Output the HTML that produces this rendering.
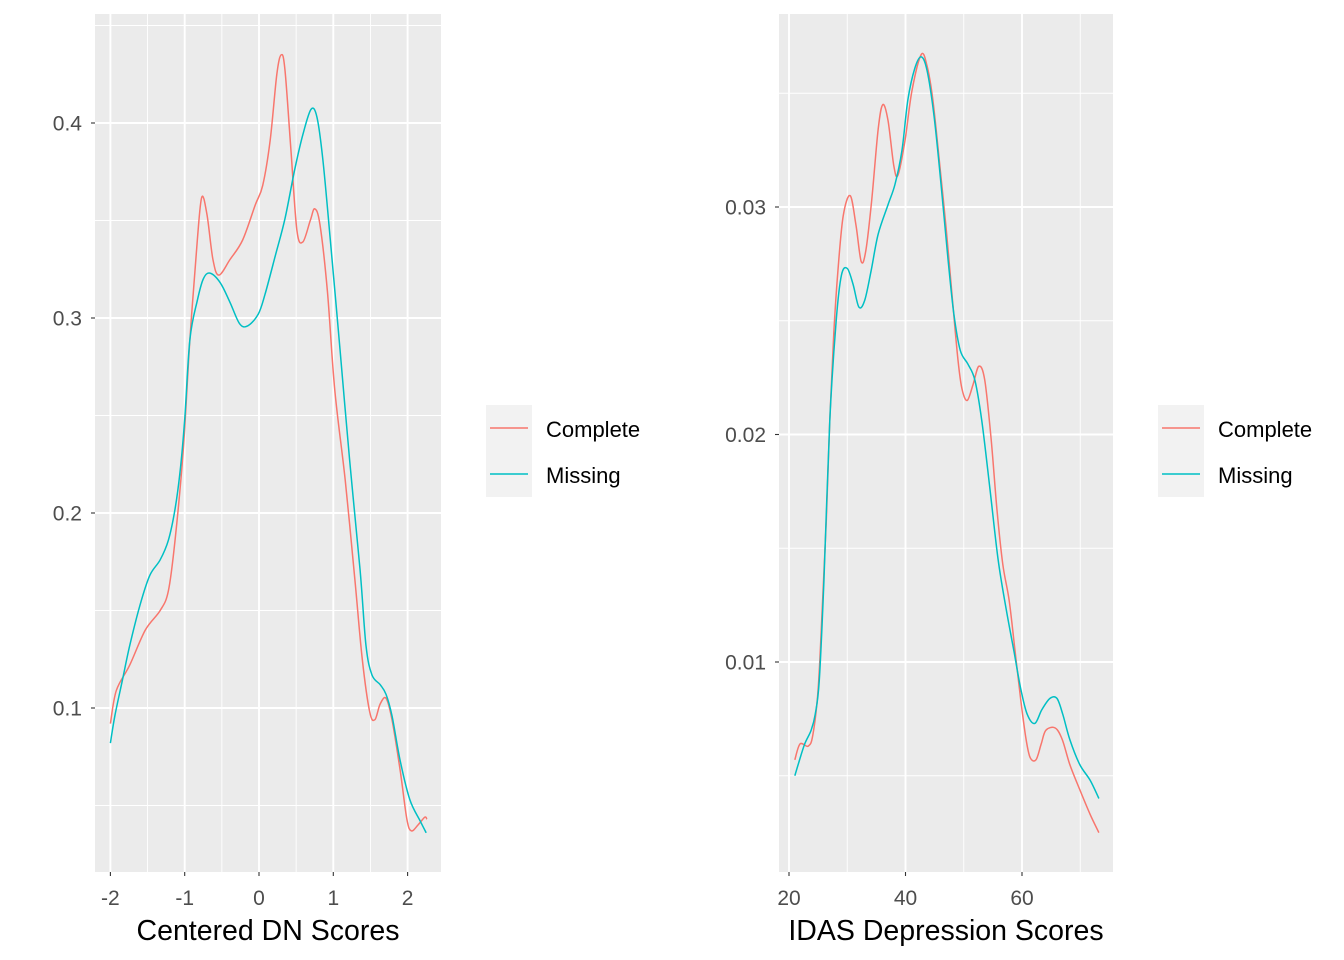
<!DOCTYPE html>
<html><head><meta charset="utf-8"><style>
html,body{margin:0;padding:0;background:#fff;}
svg{display:block;font-family:"Liberation Sans",Arial,sans-serif;}
</style></head><body>
<svg id="chart" width="1344" height="960" viewBox="0 0 1344 960"></svg>
<script>
// ---- Left panel data: Centered DN Scores ----
const dnCompleteX = [-2.0,-1.92,-1.74,-1.53,-1.33,-1.22,-1.13,-1.02,-0.93,-0.83,-0.77,-0.70,-0.62,-0.54,-0.39,-0.22,-0.05,0.05,0.15,0.24,0.30,0.35,0.43,0.51,0.59,0.69,0.75,0.82,0.92,1.02,1.16,1.29,1.39,1.49,1.56,1.63,1.71,1.79,1.90,1.99,2.05,2.14,2.23,2.26];
const dnCompleteY = [0.092,0.109,0.122,0.140,0.150,0.160,0.186,0.232,0.289,0.340,0.362,0.353,0.330,0.322,0.330,0.340,0.358,0.368,0.391,0.425,0.435,0.427,0.386,0.345,0.339,0.350,0.356,0.348,0.314,0.263,0.217,0.166,0.125,0.098,0.094,0.102,0.105,0.094,0.068,0.043,0.037,0.040,0.044,0.043];
const dnMissingX = [-2.0,-1.94,-1.84,-1.74,-1.60,-1.47,-1.33,-1.22,-1.13,-1.06,-1.00,-0.93,-0.83,-0.75,-0.66,-0.52,-0.39,-0.26,-0.15,-0.01,0.08,0.22,0.35,0.48,0.59,0.70,0.78,0.86,0.96,1.09,1.22,1.36,1.44,1.52,1.63,1.71,1.79,1.90,2.03,2.17,2.25];
const dnMissingY = [0.082,0.096,0.114,0.132,0.153,0.168,0.176,0.186,0.202,0.222,0.248,0.289,0.309,0.320,0.323,0.318,0.308,0.297,0.296,0.302,0.312,0.332,0.351,0.376,0.394,0.407,0.403,0.381,0.340,0.284,0.227,0.171,0.132,0.117,0.112,0.107,0.096,0.073,0.053,0.042,0.036];
const dnXTicks = [-2,-1,0,1,2];
const dnXTickLabels = ["-2","-1","0","1","2"];
const dnYTicks = [0.1,0.2,0.3,0.4];
const dnYTickLabels = ["0.1","0.2","0.3","0.4"];
// ---- Right panel data: IDAS Depression Scores ----
const idCompleteX = [21.0,21.9,23.3,24.1,25.0,25.7,26.4,27.0,27.7,28.4,29.3,30.5,31.5,32.4,33.2,34.2,35.3,36.1,37.0,38.0,38.7,39.9,41.1,42.7,43.7,44.7,45.9,47.0,48.0,49.0,49.7,50.6,51.6,52.6,53.6,54.7,55.7,56.7,57.8,58.8,59.8,60.7,61.4,62.4,63.3,64.1,65.7,66.9,68.2,69.9,71.7,73.2];
const idCompleteY = [0.0057,0.0064,0.0063,0.0068,0.0088,0.0123,0.0162,0.0206,0.0245,0.0272,0.0296,0.0305,0.0292,0.0276,0.0281,0.0303,0.0334,0.0345,0.0338,0.0318,0.0314,0.0329,0.0351,0.0367,0.0362,0.0347,0.0318,0.0290,0.0261,0.0233,0.0220,0.0215,0.0222,0.0230,0.0224,0.0198,0.0167,0.0143,0.0127,0.0105,0.0083,0.0066,0.0058,0.0057,0.0064,0.0070,0.0071,0.0066,0.0055,0.0044,0.0033,0.0025];
const idMissingX = [21.0,21.7,22.7,23.8,24.5,25.2,26.0,27.0,28.1,29.0,30.0,31.0,32.0,33.0,34.1,35.3,37.0,38.2,39.4,40.4,41.6,42.7,43.7,44.9,46.1,47.3,48.3,49.4,50.7,51.9,53.1,54.5,55.9,57.3,58.6,59.8,60.9,62.2,63.4,64.8,66.0,67.0,68.2,69.9,71.7,73.2];
const idMissingY = [0.0050,0.0056,0.0064,0.0070,0.0077,0.0092,0.0136,0.0206,0.0250,0.0270,0.0273,0.0266,0.0256,0.0259,0.0272,0.0288,0.0301,0.0310,0.0325,0.0347,0.0361,0.0366,0.0360,0.0340,0.0310,0.0277,0.0253,0.0237,0.0231,0.0224,0.0206,0.0176,0.0145,0.0123,0.0105,0.0088,0.0077,0.0073,0.0079,0.0084,0.0084,0.0077,0.0066,0.0055,0.0048,0.0040];
const idXTicks = [20,40,60];
const idXTickLabels = ["20","40","60"];
const idYTicks = [0.01,0.02,0.03];
const idYTickLabels = ["0.01","0.02","0.03"];
const seriesNames = ["Complete","Missing"];

const NS = "http://www.w3.org/2000/svg";
const svg = document.getElementById('chart');
function mk(tag, attrs, parent){const e=document.createElementNS(NS,tag);for(const k in attrs)e.setAttribute(k,attrs[k]);(parent||svg).appendChild(e);return e;}
function smoothPath(pts){
  let d="M"+pts[0][0].toFixed(2)+","+pts[0][1].toFixed(2);
  for(let i=0;i<pts.length-1;i++){
    const p0=pts[Math.max(i-1,0)],p1=pts[i],p2=pts[i+1],p3=pts[Math.min(i+2,pts.length-1)];
    const c1=[p1[0]+(p2[0]-p0[0])/6,p1[1]+(p2[1]-p0[1])/6];
    const c2=[p2[0]-(p3[0]-p1[0])/6,p2[1]-(p3[1]-p1[1])/6];
    d+=" C"+c1[0].toFixed(2)+","+c1[1].toFixed(2)+" "+c2[0].toFixed(2)+","+c2[1].toFixed(2)+" "+p2[0].toFixed(2)+","+p2[1].toFixed(2);
  }
  return d;
}
function panel(cfg){
  const g=mk('g',{});
  
  
  const xs=v=>cfg.x0px+(v-cfg.x0)*(cfg.x1px-cfg.x0px)/(cfg.x1-cfg.x0);
  const ys=v=>cfg.y0px+(v-cfg.y0)*(cfg.y1px-cfg.y0px)/(cfg.y1-cfg.y0);
  const bg=mk('rect',{x:cfg.L,y:cfg.T,width:cfg.R-cfg.L,height:cfg.B-cfg.T,fill:'#ebebeb'},g);
  
  
  cfg.minorX.forEach(v=>mk('line',{x1:xs(v),x2:xs(v),y1:cfg.T,y2:cfg.B,stroke:'#fff','stroke-width':0.9},g));
  cfg.minorY.forEach(v=>mk('line',{x1:cfg.L,x2:cfg.R,y1:ys(v),y2:ys(v),stroke:'#fff','stroke-width':0.9},g));
  cfg.xt.forEach(v=>mk('line',{x1:xs(v),x2:xs(v),y1:cfg.T,y2:cfg.B,stroke:'#fff','stroke-width':1.9},g));
  cfg.yt.forEach(v=>mk('line',{x1:cfg.L,x2:cfg.R,y1:ys(v),y2:ys(v),stroke:'#fff','stroke-width':1.9},g));
  cfg.series.forEach((s,i)=>{
    const pts=s.x.map((v,j)=>[xs(v),ys(s.y[j])]);
    const p=mk('path',{d:smoothPath(pts),fill:'none',stroke:s.color,'stroke-width':1.5},g);
    
    
  });
  cfg.xt.forEach((v,i)=>{
    mk('line',{x1:xs(v),x2:xs(v),y1:cfg.B,y2:cfg.B+4,stroke:'#333','stroke-width':1.1},g);
    const t=mk('text',{x:xs(v),y:cfg.B+33,'text-anchor':'middle','font-size':21,fill:'#4d4d4d'},g);
    t.textContent=cfg.xl[i];
    
    
  });
  cfg.yt.forEach((v,i)=>{
    mk('line',{x1:cfg.L-4,x2:cfg.L,y1:ys(v),y2:ys(v),stroke:'#333','stroke-width':1.1},g);
    const t=mk('text',{x:cfg.L-13,y:ys(v)+7.5,'text-anchor':'end','font-size':21,fill:'#4d4d4d'},g);
    t.textContent=cfg.yl[i];
    
    
  });
  const tt=mk('text',{x:(cfg.L+cfg.R)/2,y:940,'text-anchor':'middle','font-size':28.5,fill:'#000'},g);
  tt.textContent=cfg.title;
  
  
  // legend
  const lg=mk('g',{},g);
  
  
  mk('rect',{x:cfg.legX,y:405,width:46,height:92,fill:'#f2f2f2'},lg);
  cfg.series.forEach((s,i)=>{
    const e=mk('g',{},lg);
    
    
    mk('line',{x1:cfg.legX+4,x2:cfg.legX+42,y1:428+46*i,y2:428+46*i,stroke:s.color,'stroke-width':1.5},e);
    const t=mk('text',{x:cfg.legX+60,y:437+46*i,'font-size':22,fill:'#000'},e);
    t.textContent=seriesNames[i];
  });
}
panel({name:'dn-panel',L:95,R:441,T:14,B:872,x0:0,x1:1,x0px:259,x1px:333.3,y0:0.1,y1:0.4,y0px:708,y1px:123,
  xt:dnXTicks,xl:dnXTickLabels,yt:dnYTicks,yl:dnYTickLabels,minorX:[-1.5,-0.5,0.5,1.5],minorY:[0.05,0.15,0.25,0.35,0.45],
  title:'Centered DN Scores',legX:486,
  series:[{x:dnCompleteX,y:dnCompleteY,color:'#f8766d'},{x:dnMissingX,y:dnMissingY,color:'#00bfc4'}]});
panel({name:'idas-panel',L:779,R:1113,T:14,B:872,x0:20,x1:60,x0px:789,x1px:1022,y0:0.01,y1:0.03,y0px:662,y1px:207,
  xt:idXTicks,xl:idXTickLabels,yt:idYTicks,yl:idYTickLabels,minorX:[30,50,70],minorY:[0.005,0.015,0.025,0.035],
  title:'IDAS Depression Scores',legX:1158,
  series:[{x:idCompleteX,y:idCompleteY,color:'#f8766d'},{x:idMissingX,y:idMissingY,color:'#00bfc4'}]});
</script>
</body></html>
